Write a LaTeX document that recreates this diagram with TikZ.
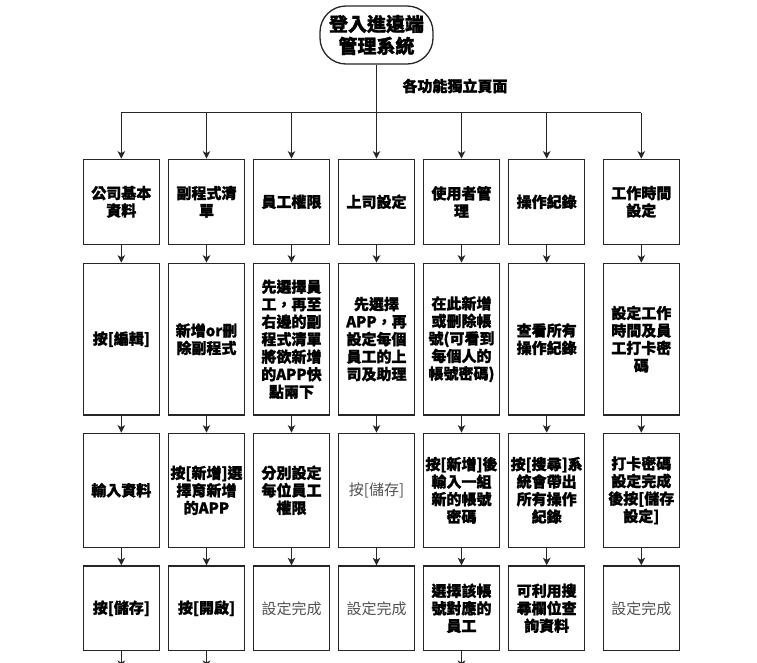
\documentclass[tikz,border=0pt]{standalone}
\usepackage{fontspec}
\setmainfont{Noto Sans CJK TC}
\newfontfamily\cjk[BoldFeatures={FakeBold=1.2}]{Noto Sans CJK TC}
\usetikzlibrary{arrows.meta}
\begin{document}
\begin{tikzpicture}[x=1pt,y=-1pt,
  box/.style={draw=black!85, line width=1.3pt, minimum width=76pt, inner sep=0pt, align=center,
    font=\cjk\bfseries\fontsize{15}{17.5}\selectfont},
  plainbox/.style={box, font=\cjk\fontsize{15}{17.5}\selectfont, text=black!68},
  rowA/.style={minimum height=85pt},
  rowB/.style={minimum height=151.7pt},
  rowC/.style={minimum height=114pt},
  rowD/.style={minimum height=84.7pt},
  conn/.style={line width=1.2pt, draw=black!85},
  arr/.style={conn, -{Stealth[length=7.5pt,width=7.5pt,inset=2pt]}}]
\clip (0,0) rectangle (757,662);
\fill[white] (0,0) rectangle (757,662);

% title
\node[draw=black!85, line width=1.3pt, rounded corners=26pt, minimum width=113pt, minimum height=58pt,
  align=center, font=\cjk\bfseries\fontsize{19}{22}\selectfont] (top) at (376.5,35) {登入進遠端\\管理系統};
\node[font=\cjk\bfseries\fontsize{15}{17}\selectfont] (lbl) at (455,86) {各功能獨立頁面};

% row 1
\node[box,rowA] (a1) at (121.3,201.8) {公司基本\\資料};
\node[box,rowA] (a2) at (206.5,201.8) {副程式清\\單};
\node[box,rowA] (a3) at (291.5,201.8) {員工權限};
\node[box,rowA] (a4) at (376.5,201.8) {上司設定};
\node[box,rowA] (a5) at (461.5,201.8) {使用者管\\理};
\node[box,rowA] (a6) at (546.7,201.8) {操作紀錄};
\node[box,rowA] (a7) at (641.3,201.8) {工作時間\\設定};

% row 2
\node[box,rowB] (b1) at (121.3,339.2) {按[編輯]};
\node[box,rowB] (b2) at (206.5,339.2) {新增or刪\\除副程式};
\node[box,rowB] (b3) at (291.5,339.2) {先選擇員\\工，再至\\右邊的副\\程式清單\\將欲新增\\的APP快\\點兩下};
\node[box,rowB] (b4) at (376.5,339.2) {先選擇\\APP，再\\設定每個\\員工的上\\司及助理};
\node[box,rowB] (b5) at (461.5,339.2) {在此新增\\或刪除帳\\號(可看到\\每個人的\\帳號密碼)};
\node[box,rowB] (b6) at (546.7,339.2) {查看所有\\操作紀錄};
\node[box,rowB] (b7) at (641.3,339.2) {設定工作\\時間及員\\工打卡密\\碼};

% row 3
\node[box,rowC] (c1) at (121.3,490.3) {輸入資料};
\node[box,rowC] (c2) at (206.5,490.3) {按[新增]選\\擇育新增\\的APP};
\node[box,rowC] (c3) at (291.5,490.3) {分別設定\\每位員工\\權限};
\node[plainbox,rowC] (c4) at (376.5,490.3) {按[儲存]};
\node[box,rowC] (c5) at (461.5,490.3) {按[新增]後\\輸入一組\\新的帳號\\密碼};
\node[box,rowC] (c6) at (546.7,490.3) {按[搜尋]系\\統會帶出\\所有操作\\紀錄};
\node[box,rowC] (c7) at (641.3,490.3) {打卡密碼\\設定完成\\後按[儲存\\設定]};

% row 4
\node[box,rowD] (d1) at (121.3,608.3) {按[儲存]};
\node[box,rowD] (d2) at (206.5,608.3) {按[開啟]};
\node[plainbox,rowD] (d3) at (291.5,608.3) {設定完成};
\node[plainbox,rowD] (d4) at (376.5,608.3) {設定完成};
\node[box,rowD] (d5) at (461.5,608.3) {選擇該帳\\號對應的\\員工};
\node[box,rowD] (d6) at (546.7,608.3) {可利用搜\\尋欄位查\\詢資料};
\node[plainbox,rowD] (d7) at (641.3,608.3) {設定完成};

% bus
\coordinate (busL) at (121.3,112.7);
\coordinate (busR) at (641.3,112.7);
\draw[conn] (busL) -- (busR);
\draw[arr] (top.south) -- (a4.north);
\foreach \n in {a1,a2,a3,a5,a6,a7}{
  \draw[arr] (\n.north |- busL) -- (\n.north);
}

% column arrows
\foreach \u/\v in {a1/b1,a2/b2,a3/b3,a4/b4,a5/b5,a6/b6,a7/b7,
                   b1/c1,b2/c2,b3/c3,b4/c4,b5/c5,b6/c6,b7/c7,
                   c1/d1,c2/d2,c3/d3,c4/d4,c5/d5,c6/d6,c7/d7}{
  \draw[arr] (\u.south) -- (\v.north);
}

% arrows leaving the bottom edge
\coordinate (e1) at (121.3,668);
\coordinate (e2) at (206.5,668);
\coordinate (e5) at (461.5,668);
\draw[arr] (d1.south) -- (e1);
\draw[arr] (d2.south) -- (e2);
\draw[arr] (d5.south) -- (e5);
\end{tikzpicture}
\end{document}
